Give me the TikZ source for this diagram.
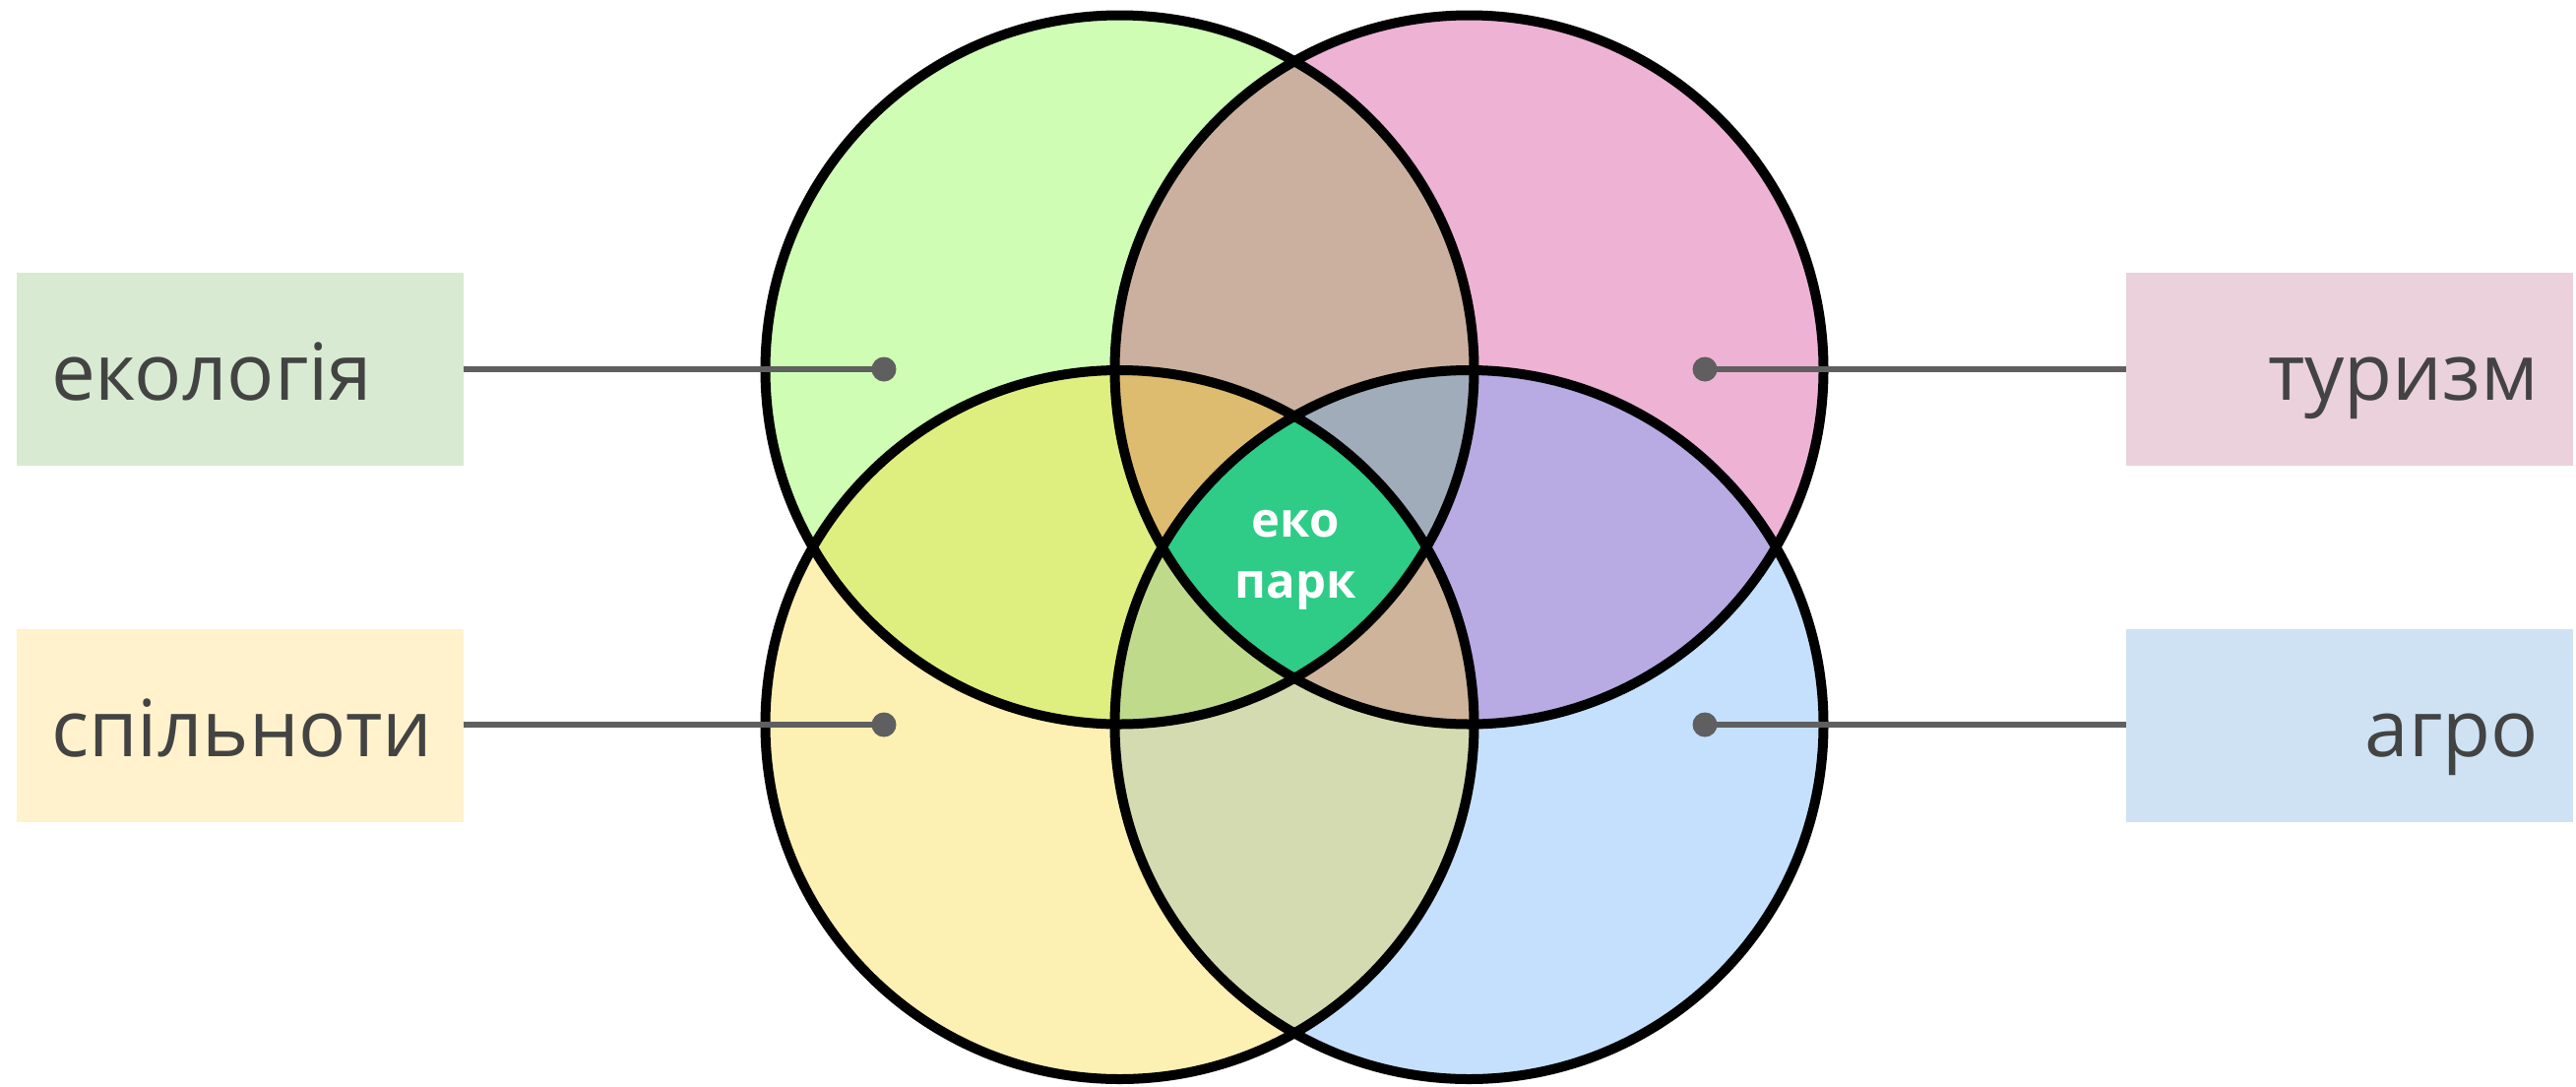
\documentclass[tikz,border=0pt]{standalone}
\usepackage{fontspec}
\setmainfont{Open Sans}
\definecolor{cG}{HTML}{CFFDB4}
\definecolor{cP}{HTML}{EEB2D4}
\definecolor{cY}{HTML}{FDF0B3}
\definecolor{cB}{HTML}{C4E0FD}
\definecolor{cGP}{HTML}{CBB0A0}
\definecolor{cGY}{HTML}{DFEF7F}
\definecolor{cPB}{HTML}{B8AAE2}
\definecolor{cYB}{HTML}{D5DBB0}
\definecolor{cGPY}{HTML}{DDBB6F}
\definecolor{cGPB}{HTML}{A0ACBA}
\definecolor{cGYB}{HTML}{C0DA8C}
\definecolor{cPYB}{HTML}{CEB49A}
\definecolor{cAll}{HTML}{2ECC87}
\definecolor{bxG}{HTML}{D9EAD3}
\definecolor{bxY}{HTML}{FFF2CC}
\definecolor{bxP}{HTML}{EAD1DC}
\definecolor{bxB}{HTML}{CFE2F3}
\definecolor{txt}{HTML}{434343}
\definecolor{conn}{HTML}{5F5F5F}
\tikzset{
  labelbox/.style={draw=none, minimum height=196pt, text width=384pt, inner xsep=35pt, inner ysep=0pt,
    text height=62pt, text depth=0pt, font=\fontsize{80}{96}\selectfont, text=txt},
  lbox/.style={labelbox, align=left},
  rbox/.style={labelbox, align=right},
  dotnode/.style={circle, fill=conn, minimum size=25pt, inner sep=0pt},
  connline/.style={draw=conn, line width=6.5pt},
  ring/.style={draw=black, line width=10pt},
}
\begin{document}
\begin{tikzpicture}[x=1pt, y=-1pt]
\useasboundingbox (0,0) rectangle (2617,1103);
\coordinate (G) at (1137.5,375.5);
\coordinate (P) at (1492.5,375.5);
\coordinate (Y) at (1137.5,736);
\coordinate (B) at (1492.5,736);
\def\R{360pt}
% single circles
\fill[cG] (G) circle (\R);
\fill[cP] (P) circle (\R);
\fill[cY] (Y) circle (\R);
\fill[cB] (B) circle (\R);
% pairs
\begin{scope}\clip (G) circle (\R); \fill[cGP] (P) circle (\R);\end{scope}
\begin{scope}\clip (G) circle (\R); \fill[cGY] (Y) circle (\R);\end{scope}
\begin{scope}\clip (P) circle (\R); \fill[cPB] (B) circle (\R);\end{scope}
\begin{scope}\clip (Y) circle (\R); \fill[cYB] (B) circle (\R);\end{scope}
% triples
\begin{scope}\clip (G) circle (\R); \clip (P) circle (\R); \fill[cGPY] (Y) circle (\R);\end{scope}
\begin{scope}\clip (G) circle (\R); \clip (P) circle (\R); \fill[cGPB] (B) circle (\R);\end{scope}
\begin{scope}\clip (G) circle (\R); \clip (Y) circle (\R); \fill[cGYB] (B) circle (\R);\end{scope}
\begin{scope}\clip (P) circle (\R); \clip (Y) circle (\R); \fill[cPYB] (B) circle (\R);\end{scope}
% all four
\begin{scope}\clip (G) circle (\R); \clip (P) circle (\R); \clip (Y) circle (\R); \fill[cAll] (B) circle (\R);\end{scope}
% outlines
\draw[ring] (G) circle (\R);
\draw[ring] (P) circle (\R);
\draw[ring] (Y) circle (\R);
\draw[ring] (B) circle (\R);
% center label
\node[text=white, font=\bfseries\fontsize{49}{62}\selectfont, align=center, anchor=base, inner sep=0pt] (eko) at (1316,607) {еко\\парк};
% boxes
\node[lbox, fill=bxG] (bEco) at (244,375) {екологія};
\node[lbox, fill=bxY] (bSpil) at (244,737) {спільноти};
\node[rbox, fill=bxP] (bTur) at (2387,375) {туризм};
\node[rbox, fill=bxB] (bAgro) at (2387,737) {агро};
% dots
\node[dotnode] (dEco) at (898,375) {};
\node[dotnode] (dSpil) at (898,736) {};
\node[dotnode] (dTur) at (1732,375) {};
\node[dotnode] (dAgro) at (1732,736) {};
% connectors
\draw[connline] (bEco.east) -- (dEco.center);
\draw[connline] (bSpil.east |- dSpil) -- (dSpil.center);
\draw[connline] (bTur.west) -- (dTur.center);
\draw[connline] (bAgro.west |- dAgro) -- (dAgro.center);
\end{tikzpicture}
\end{document}
